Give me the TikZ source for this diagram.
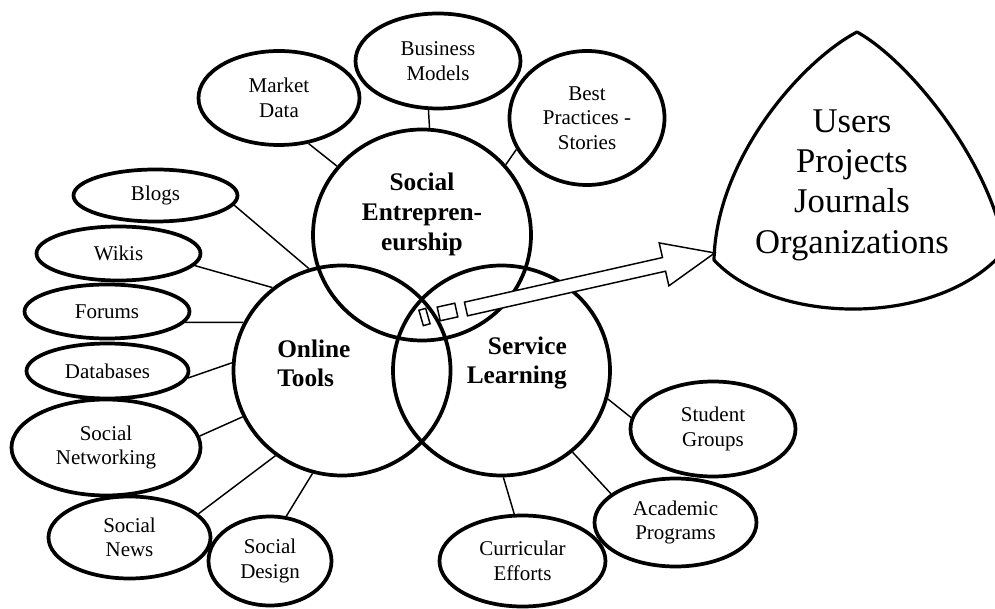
\documentclass[tikz,border=0pt]{standalone}
\usepackage{fontspec}
\setmainfont{Liberation Serif}
\usetikzlibrary{shapes.geometric}
\begin{document}
\begin{tikzpicture}[x=0.75pt,y=-0.75pt,
  big/.style={draw, ellipse, line width=2.8pt, inner sep=0pt},
  ell/.style={draw, ellipse, line width=2.8pt, inner sep=0pt, align=center,
    font=\fontsize{15.75}{18.4}\selectfont},
  link/.style={line width=1.1pt},
  btext/.style={inner sep=0pt, font=\fontsize{19}{21.75}\selectfont\bfseries},
  piece/.style={draw, fill=white, line width=1.1pt, inner sep=0pt}]
\useasboundingbox (0,0) rectangle (995,609);

% main circles
\node[big, minimum width=163.5pt, minimum height=158.25pt] (se) at (422,235) {};
\node[big, minimum width=162.75pt, minimum height=157.5pt] (ot) at (342,370.5) {};
\node[big, minimum width=162.75pt, minimum height=157.5pt] (sl) at (501.5,370.5) {};

\node[btext, align=center, font=\fontsize{19}{22.5}\selectfont\bfseries] (setxt) at (422,214) {Social\\Entrepren-\\eurship};
\node[btext, align=left, anchor=west] (ottxt) at (277,363) {Online\\Tools};
\node[btext, align=right, anchor=east] (sltxt) at (567,363) {Service\\Learning};

% satellite ellipses
\node[ell, minimum width=120.75pt, minimum height=70.5pt] (md) at (279,98) {Market\\Data};
\node[ell, minimum width=123.75pt, minimum height=71.25pt] (bm) at (438,61) {Business\\Models};
\node[ell, minimum width=116.25pt, minimum height=100.5pt] (bp) at (587,118) {Best\\Practices -\\Stories};
\node[ell, minimum width=123pt, minimum height=39pt] (blogs) at (155.5,195.5) {Blogs};
\node[ell, minimum width=123pt, minimum height=40.5pt] (wikis) at (118.5,253.5) {Wikis};
\node[ell, minimum width=123.75pt, minimum height=40.5pt] (forums) at (107,311.5) {Forums};
\node[ell, minimum width=121.5pt, minimum height=41.25pt] (db) at (107.5,371) {Databases};
\node[ell, minimum width=141.75pt, minimum height=72pt] (snw) at (106,447.5) {Social\\Networking};
\node[ell, minimum width=121.5pt, minimum height=61.5pt] (snews) at (129.5,537.5) {Social\\News};
\node[ell, minimum width=92.25pt, minimum height=66.75pt] (sd) at (270,561) {Social\\Design};
\node[ell, minimum width=123.75pt, minimum height=71.25pt] (sg) at (713,429) {Student\\Groups};
\node[ell, minimum width=121.5pt, minimum height=66pt] (ap) at (675.5,522.5) {Academic\\Programs};
\node[ell, minimum width=124.5pt, minimum height=68.25pt] (ce) at (522.5,561) {Curricular\\Efforts};

% connectors
\draw[link] (md.-57) -- (se.141.6);
\draw[link] (bm.-101.5) -- (se.86.8);
\draw[link] (bp.204) -- (se.40.4);
\draw[link] (blogs.-7.5) -- (ot.108.4);
\draw[link] (wikis.-9) -- (ot.130);
\draw[link] (forums.-8.4) -- (ot.154.8);
\draw[link] (db.-5) -- (ot.176);
\draw[link] (snw.7) -- (ot.205);
\draw[link] (snews.19.4) -- (ot.232.7);
\draw[link] (sd.70) -- (ot.254.3);
\draw[link] (sl.-15) -- (sg.172);
\draw[link] (sl.-49.6) -- (ap.156.6);
\draw[link] (sl.-89.5) -- (ce.100.8);

% block arrow and broken tail
\coordinate (tail) at (466,309);
\begin{scope}[shift={(tail)}, rotate=12.7]
  \draw[line width=1.1pt, fill=white, line join=miter]
    (0,-7) -- (203,-7) -- (203,-22) -- (255,0) -- (203,22) -- (203,7) -- (0,7) -- cycle;
\end{scope}
\node[piece, minimum width=13.5pt, minimum height=10.5pt, rotate=12.5] (r2) at (447.5,312) {};
\node[piece, minimum width=5.25pt, minimum height=12pt, rotate=16] (r1) at (424.5,317) {};

% rounded triangle
\coordinate (tT) at (857,32);
\coordinate (tL) at (714,260);
\coordinate (tR) at (1005,250);
\draw[line width=2.4pt, line join=round, line cap=round]
  (tT) .. controls (800,62) and (716,160) .. (tL)
       .. controls (775,326) and (940,328) .. (tR)
       .. controls (990,160) and (908,60) .. (tT);
\node[inner sep=0pt, align=center, font=\fontsize{26}{30.25}\selectfont] (tri) at (852,185)
  {Users\\Projects\\Journals\\Organizations};
\end{tikzpicture}
\end{document}
